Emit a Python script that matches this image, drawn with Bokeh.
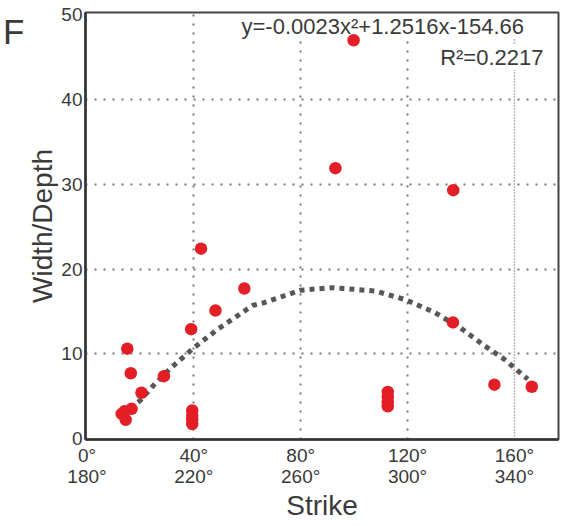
from bokeh.plotting import figure
from bokeh.models import Range1d, LinearAxis, FixedTicker, Span, Label, Grid
from bokeh.embed import file_html
from bokeh.resources import INLINE

# ---- data ----
strike = [13.0, 14.0, 14.5, 16.7, 15.1, 16.4, 20.4, 28.8, 39.0, 39.4, 39.4, 39.4, 39.4,
          42.7, 48.1, 58.9, 93.0, 99.8, 112.6, 112.6, 112.6, 112.6, 137.0, 137.1, 152.5, 166.5]
ratio = [2.9, 3.2, 2.2, 3.5, 10.6, 7.7, 5.4, 7.35, 12.9, 3.3, 2.7, 2.2, 1.7,
         22.4, 15.1, 17.7, 31.9, 47.0, 5.5, 4.9, 4.3, 3.8, 13.7, 29.3, 6.35, 6.1]

fit_x = [16, 20, 25, 31, 40, 49, 62, 66, 80, 92, 108, 119, 130, 140, 149, 156, 165]
fit_y = [3.6, 4.5, 6.3, 8.2, 10.7, 12.9, 15.7, 16.0, 17.5, 17.8, 17.4, 16.4, 14.9, 13.0, 10.9, 9.4, 7.0]

x_ticks = [0, 40, 80, 120, 160]
x_labels_top = ["0°", "40°", "80°", "120°", "160°"]
x_labels_bottom = ["180°", "220°", "260°", "300°", "340°"]
y_ticks = [0, 10, 20, 30, 40, 50]

panel_letter = "F"
panel_letter_at = 48

equation = "y=-0.0023x²+1.2516x-154.66"
r2_text = "R²=0.2217"

FONT = "Liberation Sans"
TXT = "#3a3a3a"

p = figure(width=570, height=524, output_backend="svg", toolbar_location=None,
           x_range=Range1d(-0.55, 176.5), y_range=Range1d(-0.12, 50.27),
           x_axis_location=None, y_axis_location=None,
           min_border_left=82, min_border_right=12, min_border_top=12, min_border_bottom=85)
p.background_fill_color = "white"
p.outline_line_color = "#444444"
p.outline_line_width = 2

# left axis
yax = LinearAxis(ticker=FixedTicker(ticks=y_ticks))
yax.axis_label = "Width/Depth"
p.add_layout(yax, "left")

# outer left "axis" carrying only the panel letter
fax = LinearAxis(ticker=FixedTicker(ticks=[panel_letter_at]))
fax.major_label_overrides = {panel_letter_at: panel_letter}
fax.axis_line_color = None
fax.major_tick_in = 0
fax.major_tick_out = 0
fax.minor_tick_in = 0
fax.minor_tick_out = 0
fax.major_label_standoff = 0
fax.major_label_text_font = FONT
fax.major_label_text_font_size = "35px"
fax.major_label_text_color = TXT
p.add_layout(fax, "left")

# bottom axes
xax1 = LinearAxis(ticker=FixedTicker(ticks=x_ticks))
xax1.major_label_overrides = {t: l for t, l in zip(x_ticks, x_labels_top)}
xax2 = LinearAxis(ticker=FixedTicker(ticks=x_ticks))
xax2.major_label_overrides = {t: l for t, l in zip(x_ticks, x_labels_bottom)}
xax2.axis_label = "Strike"
p.add_layout(xax1, "below")
p.add_layout(xax2, "below")

for ax in (yax, xax1, xax2):
    ax.major_tick_in = 0
    ax.major_tick_out = 0
    ax.minor_tick_in = 0
    ax.minor_tick_out = 0
    ax.major_label_text_font = FONT
    ax.major_label_text_font_size = "19px"
    ax.major_label_text_color = TXT
    ax.axis_label_text_font = FONT
    ax.axis_label_text_font_size = "28px"
    ax.axis_label_text_font_style = "normal"
    ax.axis_label_text_color = TXT
    ax.axis_line_color = "#333333"
    ax.axis_line_width = 2.5

yax.major_label_standoff = 3
yax.axis_label_standoff = 0
xax1.major_label_standoff = 5
xax2.axis_line_color = None
xax2.major_label_standoff = -3
xax2.axis_label_standoff = 0

# grid
p.xgrid.visible = False
p.ygrid.visible = False
gx = Grid(dimension=0, ticker=FixedTicker(ticks=x_ticks[1:4]),
          grid_line_color="#777777", grid_line_width=2, grid_line_dash="2 7")
gy = Grid(dimension=1, ticker=FixedTicker(ticks=y_ticks[1:5]),
          grid_line_color="#777777", grid_line_width=2, grid_line_dash="2 7")
p.add_layout(gx)
p.add_layout(gy)
p.add_layout(Span(location=x_ticks[4], dimension="height", line_color="#777777",
                  line_width=1.5, line_dash="1 2", level="underlay"))

# texts with white boxes
eq = Label(x=156, y=413, x_units="screen", y_units="screen", text=equation,
           text_font=FONT, text_font_size="22px", text_color=TXT, text_baseline="alphabetic",
           background_fill_color="white", level="underlay")
r2 = Label(x=458, y=382, x_units="screen", y_units="screen", text=r2_text,
           text_font=FONT, text_font_size="22px", text_color=TXT, text_align="right",
           text_baseline="alphabetic", background_fill_color="white", level="underlay")
p.add_layout(eq)
p.add_layout(r2)

# fit curve and points
p.line(fit_x, fit_y, line_color="#575757", line_width=5, line_dash="5 5")
p.scatter(strike, ratio, size=12.5, fill_color="#E41E26", line_color=None)

open("out.html", "w").write(file_html(p, INLINE))
